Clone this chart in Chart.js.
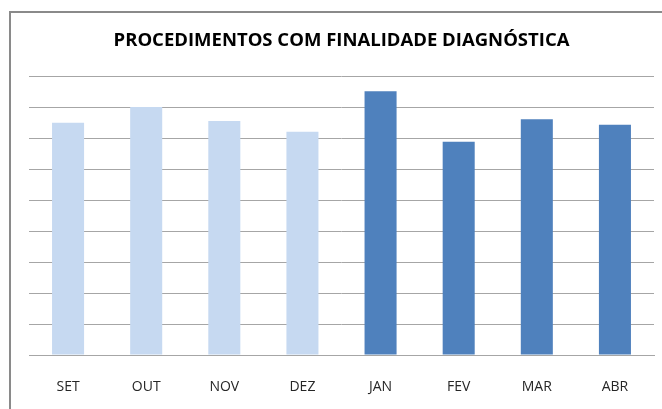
<!DOCTYPE html>
<html>
<head>
<meta charset="utf-8">
<script src="https://cdn.jsdelivr.net/npm/chart.js"></script>
<style>
  html, body { margin: 0; padding: 0; background: #fff; }
  #wrap { position: relative; width: 662px; height: 409px; overflow: hidden; }
  #frame {
    position: absolute; left: 9px; top: 11px; width: 700px; height: 450px;
    border-left: 2px solid #8a8a8a; border-top: 2px solid #8a8a8a;
  }
  canvas { position: absolute; left: 0; top: 0; }
</style>
</head>
<body>
<div id="wrap">
  <div id="frame"></div>
  <canvas id="chart" width="662" height="409"></canvas>
</div>
<script>
// Months (Sep -> Apr), first four from the previous year
const months = ["SET", "OUT", "NOV", "DEZ", "JAN", "FEV", "MAR", "ABR"]
// Values (no axis labels in the original, 9 gridline steps)
const values = [751, 802, 757, 722, 853, 690, 762, 745]
const yTicksMax = 900
const yTicksStep = 100
const firstNewYearIndex = 4

const LIGHT = "#c6d9f1"
const DARK = "#4f81bd"
const GRID = "#a6a6a6"

const ctx = document.getElementById("chart").getContext("2d")
new Chart(ctx, {
  type: "bar",
  data: {
    labels: months,
    datasets: [
      {
        label: "Procedimentos",
        data: values,
        backgroundColor: months.map((m, i) => (i < firstNewYearIndex ? LIGHT : DARK)),
        borderWidth: 0,
        barPercentage: 0.41,
        categoryPercentage: 1,
      },
    ],
  },
  options: {
    responsive: false,
    animation: false,
    layout: {
      padding: { left: 29, right: 8, top: 0, bottom: 0 },
    },
    plugins: {
      legend: { display: false },
      tooltip: { enabled: false },
      title: {
        display: true,
        text: "PROCEDIMENTOS COM FINALIDADE DIAGNÓSTICA",
        color: "#000",
        font: { family: "'Open Sans', sans-serif", size: 18.5, weight: "bold", lineHeight: 1.2 },
        padding: { top: 30, bottom: 24.5 },
      },
    },
    scales: {
      x: {
        grid: { display: false, drawTicks: false },
        border: { display: true, color: GRID, width: 1 },
        ticks: {
          color: "#262626",
          padding: 24,
          font: { family: "'Open Sans', sans-serif", size: 14 },
        },
        // fixed room below the plot, as in the original
        afterFit(scale) {
          scale.height = 54
        },
      },
      y: {
        min: 0,
        max: yTicksMax,
        ticks: { display: false, stepSize: yTicksStep },
        grid: { color: GRID, lineWidth: 1, drawTicks: false },
        border: { display: false },
      },
    },
  },
})
</script>
</body>
</html>
